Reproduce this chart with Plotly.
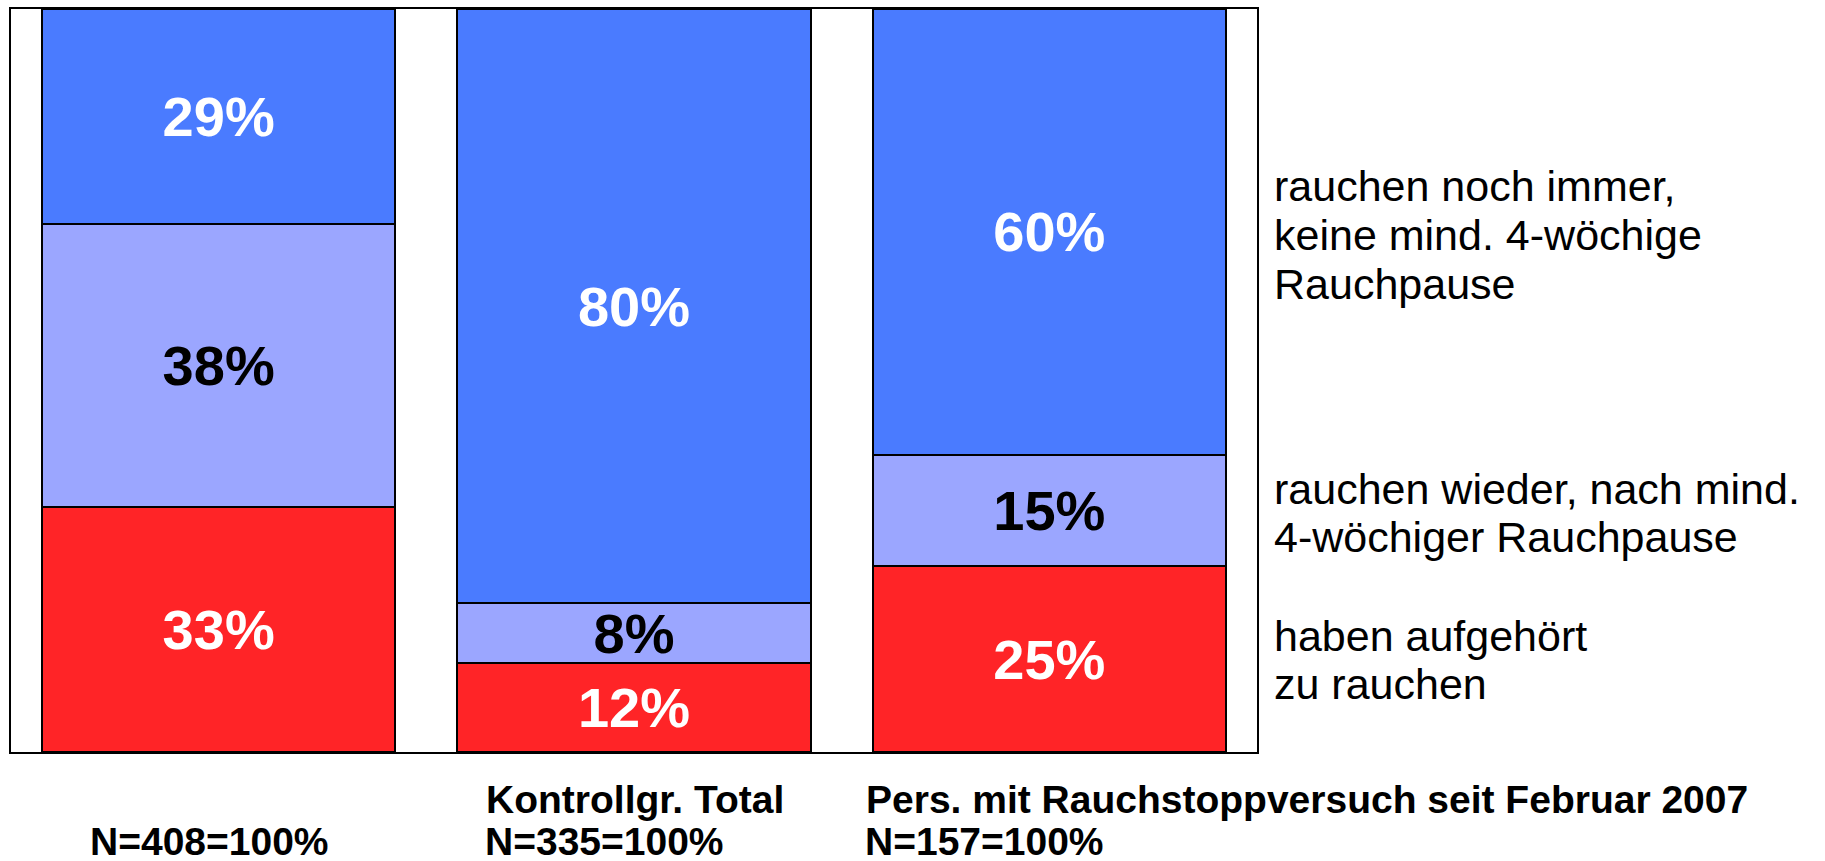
import plotly.graph_objects as go

# ---- data ----
n_labels = ["N=408=100%", "N=335=100%", "N=157=100%"]
top_labels = ["", "Kontrollgr. Total", "Pers. mit Rauchstoppversuch seit Februar 2007"]
quit_vals = [33, 12, 25]        # haben aufgehört zu rauchen
relapse_vals = [38, 8, 15]      # rauchen wieder, nach mind. 4-wöchiger Rauchpause
still_vals = [29, 80, 60]       # rauchen noch immer, keine mind. 4-wöchige Rauchpause
series_names = [
    "haben aufgehört zu rauchen",
    "rauchen wieder, nach mind. 4-wöchiger Rauchpause",
    "rauchen noch immer, keine mind. 4-wöchige Rauchpause",
]
legend_lines = [
    ["haben aufgehört", "zu rauchen"],
    ["rauchen wieder, nach mind.", "4-wöchiger Rauchpause"],
    ["rauchen noch immer,", "keine mind. 4-wöchige", "Rauchpause"],
]

# ---- style ----
W, H = 1825, 861
PL, PR, PT, PB = 11, 1257, 7, 752
colors = ["#FF2427", "#9BA6FF", "#4A7BFF"]
text_colors = ["white", "black", "white"]
FONT = "Liberation Sans, Arial, Helvetica, sans-serif"

fig = go.Figure()
for vals, name, col, tcol in zip([quit_vals, relapse_vals, still_vals], series_names, colors, text_colors):
    fig.add_trace(go.Bar(
        x=n_labels, y=vals, name=name,
        marker=dict(color=col, line=dict(color="black", width=2)),
        text=[f"{v}%" for v in vals],
        textposition="inside", insidetextanchor="middle", constraintext="none",
        textfont=dict(family=FONT, size=56, color=tcol, weight="bold"),
        hoverinfo="skip", showlegend=False,
    ))

def px_x(px):
    return (px - PL) / (PR - PL)

def px_y(py):
    return (PB - py) / (PB - PT)

annotations = []
# legend text lines (right side), centers in pixels
legend_centers = [[636, 684], [488, 536], [184, 234, 283]]
for lines, centers in zip(legend_lines, legend_centers):
    for ln, cy in zip(lines, centers):
        annotations.append(dict(
            text=ln, xref="paper", yref="paper", x=px_x(1272), y=px_y(cy),
            xanchor="left", yanchor="middle", showarrow=False,
            font=dict(family=FONT, size=43, color="black"),
        ))

# category labels below bars
label_left = [89, 484, 864]
for top, nl, lx in zip(top_labels, n_labels, label_left):
    if top:
        annotations.append(dict(
            text=top, xref="paper", yref="paper", x=px_x(lx), y=px_y(800),
            xanchor="left", yanchor="middle", showarrow=False,
            font=dict(family=FONT, size=39, color="black", weight="bold"),
        ))
    annotations.append(dict(
        text=nl, xref="paper", yref="paper", x=px_x(lx), y=px_y(842),
        xanchor="left", yanchor="middle", showarrow=False, borderpad=0,
        font=dict(family=FONT, size=39, color="black", weight="bold"),
    ))

fig.update_layout(
    width=W, height=H,
    margin=dict(l=PL, r=W - PR, t=PT, b=H - PB, pad=0),
    barmode="stack", bargap=0.15,
    plot_bgcolor="white", paper_bgcolor="white",
    annotations=annotations,
    xaxis=dict(range=[-0.5, 2.5], showticklabels=False, ticks="", showgrid=False,
               zeroline=False, showline=True, linecolor="black", linewidth=2, mirror=True),
    yaxis=dict(range=[0, 100], showticklabels=False, ticks="", showgrid=False,
               zeroline=False, showline=True, linecolor="black", linewidth=2, mirror=True),
)

fig.write_html(
    "out.html",
    config={"displayModeBar": False},
    post_script="document.body.style.margin='0';document.body.style.overflow='hidden';",
)
